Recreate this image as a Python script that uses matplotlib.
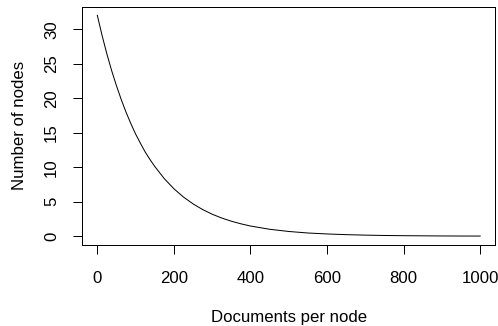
import matplotlib
matplotlib.use("Agg")
import matplotlib.pyplot as plt

docs_per_node = [0, 12.5, 25, 37.5, 50, 62.5, 75, 87.5, 100, 112.5, 125, 137.5, 150, 175, 200, 225, 250,
                 275, 300, 325, 350, 375, 400, 450, 500, 550, 600, 650, 700, 750, 800, 850, 900, 950, 1000]
num_nodes = [32.0, 29.07, 26.4, 23.98, 21.8, 19.79, 17.97, 16.32, 14.8, 13.47, 12.2, 11.11, 10.1, 8.33,
             6.87, 5.67, 4.68, 3.86, 3.18, 2.63, 2.17, 1.79, 1.47, 1.00, 0.68, 0.46, 0.32, 0.22, 0.15,
             0.10, 0.07, 0.05, 0.03, 0.02, 0.015]
x_ticks = [0, 200, 400, 600, 800, 1000]
y_ticks = [0, 5, 10, 15, 20, 25, 30]

plt.rcParams['font.family'] = ['Liberation Sans', 'DejaVu Sans']
W, H = 498, 326
FS = 16.8
fig = plt.figure(figsize=(W / 72, H / 72), dpi=72)
ax = fig.add_axes([82 / W, (H - 245) / H, (495.5 - 82) / W, (245 - 6.5) / H])
ax.plot(docs_per_node, num_nodes, color='black', lw=1)
ax.set_xlim(-40, 1040)
ax.set_ylim(-1.28, 33.28)
ax.set_xticks(x_ticks)
ax.set_yticks(y_ticks)
ax.set_xticklabels([str(v) for v in x_ticks])
ax.set_yticklabels([str(v) for v in y_ticks], rotation=90, va='center')
ax.tick_params(axis='both', direction='out', length=9, width=1, labelsize=FS, color='black')
ax.tick_params(axis='x', pad=17)
ax.tick_params(axis='y', pad=14)
for s in ax.spines.values():
    s.set_linewidth(1)
ax.set_xlabel('Documents per node', fontsize=FS, labelpad=24)
ax.set_ylabel('Number of nodes', fontsize=FS, labelpad=17)
fig.savefig('out.png', dpi=72)
